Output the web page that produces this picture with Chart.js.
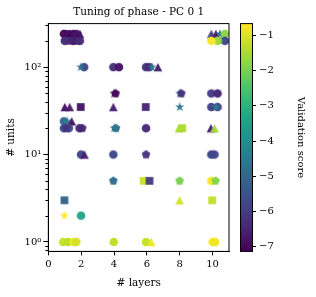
<!DOCTYPE html>
<html>
<head>
<meta charset="utf-8">
<script src="https://cdn.jsdelivr.net/npm/chart.js@4.4.1/dist/chart.umd.min.js"></script>
<style>
  html, body { margin: 0; padding: 0; background: #fff; }
</style>
</head>
<body>
<canvas id="tuneChart" width="316" height="297"></canvas>
<script>
// one entry per tried configuration
const layers = [
  0.95, 1.15, 1.35, 1.55, 1.75, 1.92,
  1.0, 1.25, 1.5, 1.7, 1.92,
  9.92, 10.2, 10.45, 10.75,
  10.75, 10.5, 10.3, 9.92,
  2.18, 1.97, 3.96, 4.3, 5.95, 6.15, 6.67, 6.3,
  4.0, 4.1, 8.0, 8.1, 9.92, 10.3,
  1.0, 1.3, 1.97, 3.96, 5.93, 8.0, 9.92, 10.3, 10.22,
  0.95, 1.15, 1.42,
  0.95, 1.25, 1.1, 1.9, 2.07, 4.0, 4.12, 5.95, 7.95, 8.15, 9.9, 10.12,
  1.99, 2.2, 3.96, 5.95, 9.92, 10.12,
  3.96, 5.8, 6.16, 7.99, 9.92, 10.18,
  0.98, 7.99, 9.98,
  0.98, 1.99,
  0.9, 1.2, 1.55, 1.7, 3.98, 5.95, 6.26, 10.0, 10.15
];
const units = [
  240, 240, 240, 240, 240, 240,
  200, 200, 200, 200, 200,
  240, 240, 240, 240,
  200, 200, 200, 200,
  100, 100, 100, 100, 100, 100, 100, 100,
  50, 50, 50, 50, 50, 50,
  35, 35, 35, 35, 35, 35, 35, 35, 35,
  24, 24, 24,
  20, 20, 20, 20, 20, 20, 20, 20, 20, 20, 20, 20,
  10, 10, 10, 10, 10, 10,
  5, 5, 5, 5, 5, 5,
  3, 3, 3,
  2, 2,
  1, 1, 1, 1, 1, 1, 1, 1, 1
];
const scores = [
  -7.0, -6.9, -7.14, -6.95, -6.8, -6.85,
  -6.4, -6.3, -6.5, -6.6, -6.35,
  -5.9, -6.6, -4.6, -1.8,
  -5.9, -4.4, -1.6, -0.7,
  -5.8, -4.7, -6.3, -6.8, -6.2, -6.4, -6.6, -4.5,
  -6.9, -7.0, -4.6, -6.2, -6.0, -6.5,
  -6.8, -6.6, -6.8, -6.6, -6.5, -4.5, -5.9, -6.0, -4.4,
  -5.0, -4.4, -6.9,
  -5.7, -5.6, -6.2, -6.4, -6.5, -4.8, -4.6, -6.4, -1.5, -1.5, -6.5, -1.6,
  -5.8, -6.6, -5.8, -6.2, -5.8, -5.8,
  -4.9, -1.2, -6.0, -2.0, -0.75, -1.9,
  -5.1, -1.1, -1.3,
  -0.7, -3.3,
  -1.25, -1.35, -0.8, -1.1, -1.3, -1.25, -0.8, -0.75, -0.8
];
const markers = [
  'o', 's', '^', 'o', 'p', '^',
  'o', 'p', 'o', 's', 'o',
  '^', '^', '*', 'o',
  'o', '*', 'o', 'o',
  'o', '*', 'o', 'o', 'o', 'o', '^', '*',
  '*', 'p', '*', 'p', 'o', 'o',
  '^', '^', 's', '^', 's', '*', 'o', 'o', '*',
  'o', '*', '^',
  'o', 'o', 'p', 'o', 'p', '*', 'p', 'o', '^', 's', '^', '^',
  'o', '^', 'o', 'p', 'o', 'o',
  'p', 's', 's', 'p', 'o', 'p',
  's', '^', 's',
  '*', 'o',
  'o', 'o', 'o', 'o', 'o', 'o', '^', 'o', 'o'
];

const xTickValues = [0, 2, 4, 6, 8, 10];
const yTickValues = [0.8, 0.9, 1, 2, 3, 4, 5, 6, 7, 8, 9, 10, 20, 30, 40, 50, 60, 70, 80, 90, 100, 200, 300];
const yMajorLabels = { 1: '10\u2070', 10: '10\u00b9', 100: '10\u00b2' };
const cbarTickValues = [-7, -6, -5, -4, -3, -2, -1];
const scoreMin = -7.14;
const scoreMax = -0.68;

const serif = "'DejaVu Serif', serif";

const viridis = ['#440154', '#482475', '#414487', '#355f8d', '#2a788e', '#21918c',
                 '#22a884', '#44bf70', '#7ad151', '#bddf26', '#fde725'];

function hexRgb(h) {
  return [parseInt(h.slice(1, 3), 16), parseInt(h.slice(3, 5), 16), parseInt(h.slice(5, 7), 16)];
}
function scoreColor(v) {
  let t = (v - scoreMin) / (scoreMax - scoreMin);
  t = Math.max(0, Math.min(1, t)) * (viridis.length - 1);
  const i = Math.min(Math.floor(t), viridis.length - 2);
  const f = t - i;
  const a = hexRgb(viridis[i]), b = hexRgb(viridis[i + 1]);
  const c = a.map((x, k) => Math.round(x + (b[k] - x) * f));
  return 'rgb(' + c.join(',') + ')';
}

// matplotlib-like filled markers as little canvases
const markerCache = {};
function markerImage(shape, color) {
  const key = shape + color;
  if (markerCache[key]) return markerCache[key];
  const cv = document.createElement('canvas');
  cv.width = 14; cv.height = 14;
  const g = cv.getContext('2d');
  const r = 4.3;
  g.translate(7, 7);
  g.globalAlpha = 0.97;
  g.fillStyle = color;
  g.beginPath();
  if (shape === 'o') {
    g.arc(0, 0, r, 0, Math.PI * 2);
  } else if (shape === 's') {
    g.rect(-r * 0.9, -r * 0.9, r * 1.8, r * 1.8);
  } else if (shape === '^') {
    g.moveTo(0, -r); g.lineTo(r, r); g.lineTo(-r, r); g.closePath();
  } else if (shape === 'p') {
    for (let k = 0; k < 5; k++) {
      const a = -Math.PI / 2 + k * 2 * Math.PI / 5;
      g.lineTo(Math.cos(a) * r * 1.05, Math.sin(a) * r * 1.05);
    }
    g.closePath();
  } else {
    for (let k = 0; k < 10; k++) {
      const a = -Math.PI / 2 + k * Math.PI / 5;
      const rr = k % 2 ? r * 0.45 : r * 1.15;
      g.lineTo(Math.cos(a) * rr, Math.sin(a) * rr);
    }
    g.closePath();
  }
  g.fill();
  markerCache[key] = cv;
  return cv;
}

const points = layers.map((x, i) => ({ x: x, y: units[i] }));

const extras = {
  id: 'extras',
  afterDraw(chart) {
    const ctx = chart.ctx;
    const area = chart.chartArea;
    const ys = chart.scales.y;
    const cs = chart.scales.c;
    ctx.save();
    // full frame
    ctx.strokeStyle = '#000';
    ctx.lineWidth = 1;
    ctx.strokeRect(area.left, area.top, area.right - area.left, area.bottom - area.top);
    // minor log ticks
    ys.ticks.forEach(t => {
      if (yMajorLabels[t.value]) return;
      const py = Math.round(ys.getPixelForValue(t.value)) + 0.5;
      ctx.beginPath();
      ctx.moveTo(area.left - 3, py);
      ctx.lineTo(area.left, py);
      ctx.stroke();
    });
    // colorbar
    const x0 = area.right + 11, w = 12;
    const top = cs.getPixelForValue(scoreMax), bot = cs.getPixelForValue(scoreMin);
    const grad = ctx.createLinearGradient(0, bot, 0, top);
    viridis.forEach((c, k) => grad.addColorStop(k / (viridis.length - 1), c));
    ctx.fillStyle = grad;
    ctx.fillRect(x0, top, w, bot - top);
    ctx.strokeRect(x0 + 0.5, top, w, bot - top);
    ctx.fillStyle = '#000';
    ctx.font = '10px ' + serif;
    ctx.textBaseline = 'middle';
    ctx.textAlign = 'left';
    cbarTickValues.forEach(v => {
      const py = Math.round(cs.getPixelForValue(v)) + 0.5;
      ctx.beginPath();
      ctx.moveTo(x0 + w, py);
      ctx.lineTo(x0 + w + 4, py);
      ctx.stroke();
      ctx.fillText('\u2212' + Math.abs(v), x0 + w + 7, py);
    });
    ctx.translate(301, (top + bot) / 2);
    ctx.rotate(Math.PI / 2);
    ctx.textAlign = 'center';
    ctx.font = '10px ' + serif;
    ctx.fillText('Validation score', 0, 0);
    ctx.restore();
  }
};

new Chart(document.getElementById('tuneChart').getContext('2d'), {
  type: 'scatter',
  data: {
    datasets: [{
      data: points,
      xAxisID: 'x',
      yAxisID: 'y',
      pointStyle: ctx => markerImage(markers[ctx.dataIndex], scoreColor(scores[ctx.dataIndex])),
      pointRadius: 4.3
    }]
  },
  options: {
    responsive: false,
    animation: false,
    layout: { padding: { left: 5, right: 87, top: 0, bottom: 7 } },
    plugins: {
      legend: { display: false },
      tooltip: { enabled: false },
      title: {
        display: true,
        text: 'Tuning of phase - PC 0 1',
        fullSize: false,
        color: '#000',
        font: { family: serif, size: 10.5, weight: 'normal' },
        padding: { top: 6, bottom: 5 }
      }
    },
    scales: {
      x: {
        type: 'linear',
        min: 0,
        max: 11,
        afterBuildTicks: s => { s.ticks = xTickValues.map(v => ({ value: v })); },
        ticks: { color: '#000', font: { family: serif, size: 10 }, padding: 3 },
        grid: { drawOnChartArea: false, tickLength: 4, tickColor: '#000' },
        border: { color: '#000', width: 1 },
        title: { display: true, text: '# layers', color: '#000',
                 font: { family: serif, size: 10.5 }, padding: { top: 4, bottom: 0 } }
      },
      y: {
        type: 'logarithmic',
        min: 0.78,
        max: 315,
        afterBuildTicks: s => { s.ticks = yTickValues.map(v => ({ value: v, major: !!yMajorLabels[v] })); },
        ticks: {
          color: '#000', font: { family: serif, size: 10 }, padding: 2, autoSkip: false,
          callback: v => yMajorLabels[v] || ''
        },
        grid: {
          drawOnChartArea: false, tickLength: 5,
          tickColor: c => (c.tick && yMajorLabels[c.tick.value]) ? '#000' : 'rgba(0,0,0,0)'
        },
        border: { color: '#000', width: 1 },
        title: { display: true, text: '# units', color: '#000',
                 font: { family: serif, size: 10.5 }, padding: { top: 0, bottom: 5 } }
      },
      c: {
        type: 'linear',
        position: 'right',
        display: false,
        min: scoreMin,
        max: scoreMax
      }
    }
  },
  plugins: [extras]
});
</script>
</body>
</html>
